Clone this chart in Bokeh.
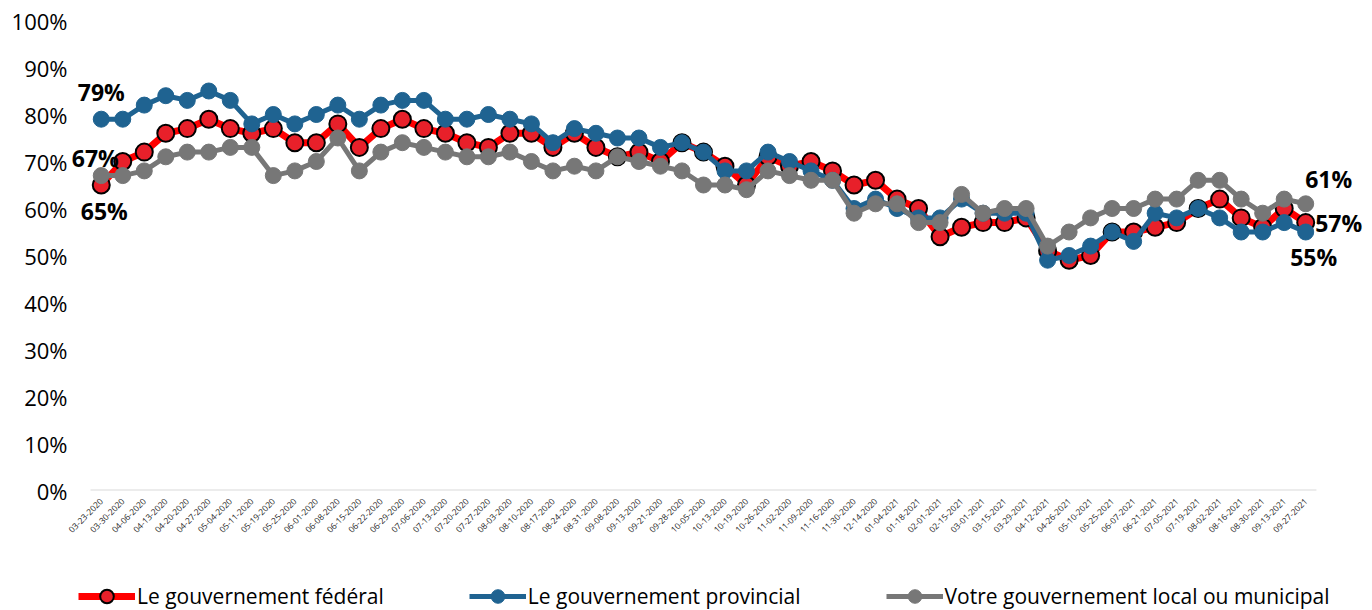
import math
from bokeh.plotting import figure
from bokeh.layouts import column
from bokeh.models import (Range1d, Legend, LegendItem, ColumnDataSource,
                          PrintfTickFormatter, FixedTicker)
from bokeh.core.properties import value
from bokeh.embed import file_html
from bokeh.resources import INLINE

dates = ["03-23-2020", "03-30-2020", "04-06-2020", "04-13-2020", "04-20-2020", "04-27-2020",
         "05-04-2020", "05-11-2020", "05-19-2020", "05-25-2020", "06-01-2020", "06-08-2020",
         "06-15-2020", "06-22-2020", "06-29-2020", "07-06-2020", "07-13-2020", "07-20-2020",
         "07-27-2020", "08-03-2020", "08-10-2020", "08-17-2020", "08-24-2020", "08-31-2020",
         "09-08-2020", "09-13-2020", "09-21-2020", "09-28-2020", "10-05-2020", "10-13-2020",
         "10-19-2020", "10-26-2020", "11-02-2020", "11-09-2020", "11-16-2020", "11-30-2020",
         "12-14-2020", "01-04-2021", "01-18-2021", "02-01-2021", "02-15-2021", "03-01-2021",
         "03-15-2021", "03-29-2021", "04-12-2021", "04-26-2021", "05-10-2021", "05-25-2021",
         "06-07-2021", "06-21-2021", "07-05-2021", "07-19-2021", "08-02-2021", "08-16-2021",
         "08-30-2021", "09-13-2021", "09-27-2021"]

federal = [65, 70, 72, 76, 77, 79, 77, 76, 77, 74, 74, 78, 73, 77, 79, 77, 76, 74, 73, 76,
           76, 73, 76, 73, 71, 72, 70, 74, 72, 69, 65, 71, 69, 70, 68, 65, 66, 62, 60, 54,
           56, 57, 57, 58, 51, 49, 50, 55, 55, 56, 57, 60, 62, 58, 56, 60, 57]

provincial = [79, 79, 82, 84, 83, 85, 83, 78, 80, 78, 80, 82, 79, 82, 83, 83, 79, 79, 80, 79,
              78, 74, 77, 76, 75, 75, 73, 74, 72, 68, 68, 72, 70, 68, 66, 60, 62, 60, 58, 58,
              62, 59, 59, 59, 49, 50, 52, 55, 53, 59, 58, 60, 58, 55, 55, 57, 55]

local = [67, 67, 68, 71, 72, 72, 73, 73, 67, 68, 70, 75, 68, 72, 74, 73, 72, 71, 71, 72,
         70, 68, 69, 68, 71, 70, 69, 68, 65, 65, 64, 68, 67, 66, 66, 59, 61, 61, 57, 57,
         63, 59, 60, 60, 52, 55, 58, 60, 60, 62, 62, 66, 66, 62, 59, 62, 61]

series_names = ["Le gouvernement fédéral", "Le gouvernement provincial",
                "Votre gouvernement local ou municipal"]
y_ticks = [0, 10, 20, 30, 40, 50, 60, 70, 80, 90, 100]

FONT = "Open Sans"
RED_LINE = "#FF0000"
RED_FILL = "#E8202A"
BLUE = "#1F6391"
GRAY = "#777777"

n = len(dates)
idx = list(range(n))

# frame is widened beyond the category band so the end labels are not clipped
p = figure(x_range=Range1d(-1.43, n + 1.92), y_range=Range1d(0, 100),
           width=1372, height=570,
           min_border_left=70, min_border_top=20, min_border_right=4, min_border_bottom=80,
           output_backend="svg", toolbar_location=None, background_fill_color="white",
           border_fill_color="white", outline_line_color=None)

p.xgrid.visible = False
p.ygrid.visible = False

p.yaxis.ticker = FixedTicker(ticks=y_ticks)
p.yaxis.formatter = PrintfTickFormatter(format="%d%%")
p.yaxis.axis_line_color = None
p.yaxis.major_tick_line_color = None
p.yaxis.minor_tick_line_color = None
p.yaxis.major_tick_out = 0
p.yaxis.major_label_standoff = 3
p.yaxis.major_label_text_font = FONT
p.yaxis.major_label_text_font_size = "22px"
p.yaxis.major_label_text_color = "black"

p.xaxis.ticker = FixedTicker(ticks=idx)
p.xaxis.major_label_overrides = {i: d for i, d in enumerate(dates)}
p.xaxis.axis_line_color = None
p.xaxis.major_tick_line_color = None
p.xaxis.minor_tick_line_color = None
p.xaxis.major_tick_out = 0
p.xaxis.major_label_orientation = math.pi / 4
p.xaxis.major_label_text_font = FONT
p.xaxis.major_label_text_font_size = "8.5px"
p.xaxis.major_label_text_color = "#222222"
p.xaxis.major_label_standoff = 9

# category-axis baseline spanning the category band
p.segment(x0=[idx[0] - 0.5], x1=[idx[-1] + 0.5], y0=[0], y1=[0],
          line_color="#D9D9D9", line_width=2)

src = ColumnDataSource(dict(x=idx, fed=federal, prov=provincial, loc=local))

p.line("x", "fed", source=src, line_color=RED_LINE, line_width=7)
p.scatter("x", "fed", source=src, size=17, fill_color=RED_FILL,
          line_color="black", line_width=2)
p.line("x", "prov", source=src, line_color=BLUE, line_width=5)
p.scatter("x", "prov", source=src, size=16, fill_color=BLUE, line_color=BLUE)
p.line("x", "loc", source=src, line_color=GRAY, line_width=5)
p.scatter("x", "loc", source=src, size=16, fill_color=GRAY, line_color=GRAY)

# data labels at the first and last points
label_src = ColumnDataSource(dict(
    x=[idx[0], idx[0], idx[0], idx[-1], idx[-1], idx[-1]],
    y=[provincial[0], local[0], federal[0], local[-1], federal[-1], provincial[-1]],
    text=[f"{provincial[0]}%", f"{local[0]}%", f"{federal[0]}%",
          f"{local[-1]}%", f"{federal[-1]}%", f"{provincial[-1]}%"],
    dx=[0, -6, 3, 23, 33, 8],
    dy=[-27, -18, 26, -25, 0, 25],
))
p.text("x", "y", text="text", source=label_src, x_offset="dx", y_offset="dy",
       text_align="center", text_baseline="middle", text_font=value(FONT),
       text_font_style="bold", text_font_size="23px", text_color="black")

# legend strip below the chart (hidden copies of the series supply the legend glyphs)
lg = figure(width=1372, height=40, x_range=Range1d(0, 1), y_range=Range1d(0, 1),
            x_axis_location=None, y_axis_location=None,
            min_border=0, output_backend="svg", toolbar_location=None,
            outline_line_color=None, background_fill_color="white",
            border_fill_color="white")
lg.grid.visible = False
r1 = [lg.line("x", "fed", source=src, line_color=RED_LINE, line_width=7),
      lg.scatter("x", "fed", source=src, size=17, fill_color=RED_FILL,
                 line_color="black", line_width=2)]
r2 = [lg.line("x", "prov", source=src, line_color=BLUE, line_width=5),
      lg.scatter("x", "prov", source=src, size=16, fill_color=BLUE, line_color=BLUE)]
r3 = [lg.line("x", "loc", source=src, line_color=GRAY, line_width=5),
      lg.scatter("x", "loc", source=src, size=16, fill_color=GRAY, line_color=GRAY)]
for r in r1 + r2 + r3:
    r.visible = False

legend = Legend(items=[LegendItem(label=series_names[0], renderers=r1),
                       LegendItem(label=series_names[1], renderers=r2),
                       LegendItem(label=series_names[2], renderers=r3)],
                orientation="horizontal", location=(8, -3),
                glyph_width=57, glyph_height=34, label_standoff=2, spacing=85,
                padding=0, margin=0, border_line_color=None, background_fill_alpha=0,
                inactive_fill_alpha=0,
                label_text_font=FONT, label_text_font_size="21px",
                label_text_color="black", label_height=34)
lg.add_layout(legend, "center")

layout = column(p, lg, spacing=0)
open("out.html", "w").write(file_html(layout, INLINE))
